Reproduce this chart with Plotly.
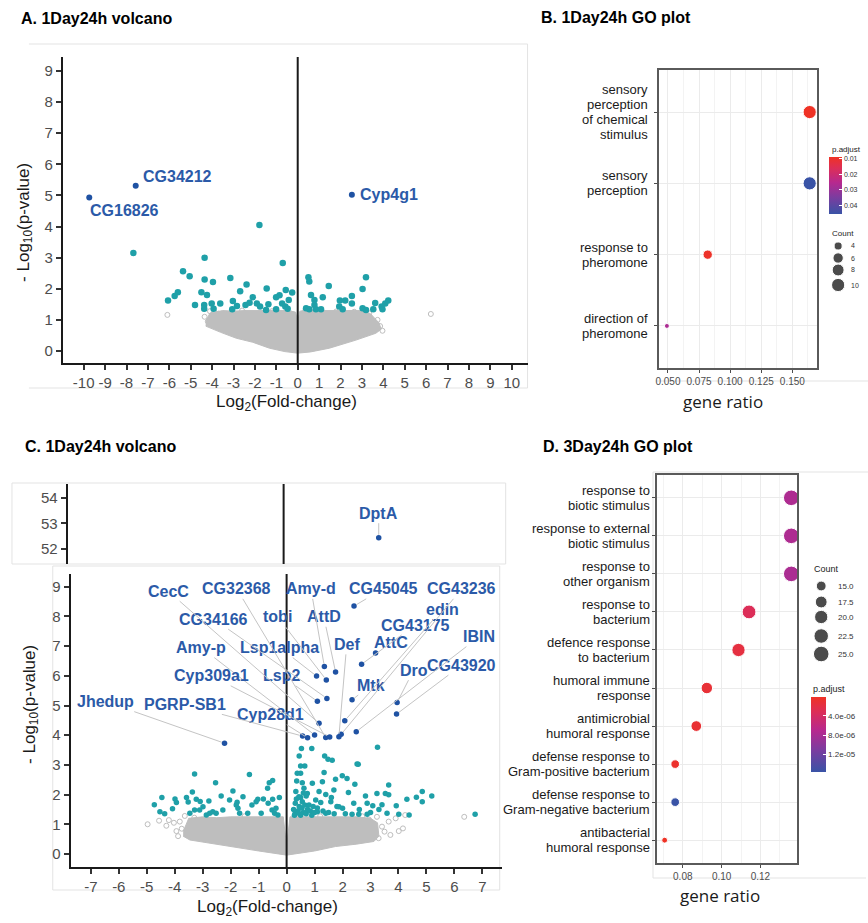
import math
import plotly.graph_objects as go

W, H = 868, 923
FONT = "Liberation Sans, Arial, sans-serif"
TEAL = "#1fa0a8"
BLUE = "#1f52a3"
LBLUE = "#2b5aa8"
GRAY = "#bebebe"

# ---------------- Panel A data (1Day24h volcano) ----------------
a_teal_x = [-7.68, -1.79, -5.36, -5.05, -4.35, -4.35, -3.96, -3.15, -2.39, -2.69, -1.45, -0.70, -0.56, -0.26,
            -0.85, -1.01, -2.10, -4.50, -4.24, -5.60, -5.75, -6.06, -4.80, -4.37, -4.37, -4.02, -3.93, -3.62,
            -3.03, -3.06, -2.84, -2.44, -2.25, -1.91, -1.76, -1.37, -1.48, -1.01, -0.73, -0.58, -0.47, -0.42,
            0.50, 0.54, 1.45, 3.19, 3.03, 0.62, 1.17, 0.78, 0.78, 0.39, 0.54, 0.85, 1.09, 1.97, 2.22, 2.53,
            2.53, 1.94, 2.10, 3.03, 3.19, 3.53, 3.62, 3.92, 4.09, 4.23, 3.96]
a_teal_y = [3.15, 4.05, 2.56, 2.40, 3.00, 2.30, 2.22, 2.35, 2.14, 1.92, 2.01, 2.83, 1.96, 1.88,
            1.79, 1.73, 1.73, 1.89, 1.80, 1.89, 1.77, 1.62, 1.48, 1.48, 1.36, 1.53, 1.36, 1.53,
            1.61, 1.34, 1.45, 1.48, 1.55, 1.53, 1.43, 1.50, 1.32, 1.34, 1.53, 1.43, 1.36, 1.64,
            2.37, 2.23, 2.09, 2.37, 1.99, 1.80, 1.73, 1.64, 1.48, 1.37, 1.34, 1.34, 1.34, 1.62, 1.62, 1.77,
            1.53, 1.43, 1.34, 1.37, 1.32, 1.34, 1.54, 1.43, 1.53, 1.62, 1.34]
a_gray_x = [-6.09, 6.22, 3.96, 3.73, 2.10, 2.64, 3.34, -4.35, -4.20, -3.90, 3.50, 3.10, -2.60, -1.20,
            1.80, 0.30, -0.30, 2.90, -3.40, 3.85, -4.1, -3.7, 3.6, 2.4]
a_gray_y = [1.16, 1.19, 0.65, 1.00, 1.16, 1.26, 1.21, 1.10, 0.95, 1.25, 0.95, 1.25, 1.30, 1.28,
            1.27, 1.25, 1.20, 0.80, 1.10, 0.80, 1.28, 1.20, 0.72, 1.22]
# outline of the dense non-significant cloud
a_cloud_x = [-4.3, -4.1, -3.5, -3.0, -2.5, -2.0, -1.5, -1.0, -0.5, -0.1, 0.0, 0.1, 0.5, 1.0, 1.5, 2.0, 2.5,
             3.0, 3.4, 3.8, 3.9, 3.65, 2.72, 1.48, 0.6, 0.0, -0.6, -1.32, -2.1, -2.87, -3.6, -4.3]
a_cloud_y = [0.95, 1.22, 1.30, 1.28, 1.30, 1.30, 1.32, 1.30, 1.30, 1.25, 0.95, 1.28, 1.30, 1.30, 1.30, 1.28, 1.30,
             1.30, 1.20, 0.90, 0.70, 0.57, 0.35, 0.09, -0.03, -0.07, -0.02, 0.09, 0.28, 0.41, 0.60, 0.80]
a_blue_genes = ["CG16826", "CG34212", "Cyp4g1"]
a_blue_x = [-9.74, -7.57, 2.53]
a_blue_y = [4.93, 5.31, 5.02]
a_x_ticks = list(range(-10, 11))
a_y_ticks = list(range(0, 10))

# ---------------- Panel B data (1Day24h GO plot) ----------------
b_terms = ["sensory perception of chemical stimulus", "sensory perception",
           "response to pheromone", "direction of pheromone"]
b_lines = [["sensory", "perception", "of chemical", "stimulus"], ["sensory", "perception"],
           ["response to", "pheromone"], ["direction of", "pheromone"]]
b_count = [10, 10, 5, 3]
b_total = 61
b_padj = [0.0089, 0.0457, 0.0095, 0.027]
b_x_ticks = [0.050, 0.075, 0.100, 0.125, 0.150]
b_x_ticktext = ["0.050", "0.075", "0.100", "0.125", "0.150"]
b_cbar_ticks = [0.01, 0.02, 0.03, 0.04]
b_legend_counts = [4, 6, 8, 10]

# ---------------- Panel C data (1Day24h volcano, broken axis) ----------------
c_teal_x = [-4.73, -4.53, -4.46, -4.36, -4.08, -3.99, -3.94, -3.58, -3.52, -3.46, -3.37, -3.29, -3.29, -3.23,
            -3.09, -2.99, -2.87, -2.78, -2.75, -2.64, -2.54, -2.34, -2.28, -2.04, -1.92, -1.77, -1.74, -1.68,
            -1.56, -1.39, -1.33, -1.24, -1.03, -0.91, -0.83, -0.68, -0.62, -0.50, -0.66, -0.52, -0.43, -0.38,
            -0.26, -0.31, -0.50, -3.11, -2.52, -1.80, -1.09,
            0.31, 0.33, 0.38, 0.50, 0.36, 0.56, 0.65, 0.62, 0.44, 0.56, 0.74, 0.80, 0.92, 1.04, 1.10, 1.16,
            1.22, 1.34, 1.28, 1.40, 1.58, 1.63, 1.69, 1.75, 1.87, 1.99, 2.00, 2.16, 2.21, 2.34, 2.40, 2.44,
            2.52, 2.58, 2.82, 2.88, 2.88, 3.08, 3.23, 3.41, 3.53, 3.65, 3.59, 3.65, 3.92, 4.01, 4.30, 4.38,
            4.64, 4.85, 4.85, 5.19, 6.74,
            0.25, 0.30, 0.40, 0.45, 0.50, 0.55, 0.60, 0.65, 0.70, 0.75, 0.85, 0.90, 0.95, 1.00, 0.35, 0.50,
            0.70, 0.60, 1.10, 1.30, 1.50, 1.70, 1.80, 2.10, 1.60, 1.40, 2.60, 3.00, 3.30, 0.28, 0.42, 0.48,
            0.45, 0.53, 0.90, 0.50, 1.36, 1.48, 2.56, 3.25]
c_teal_y = [1.66, 1.42, 1.90, 1.35, 1.52, 1.85, 1.73, 1.90, 1.75, 1.37, 2.09, 2.69, 1.48, 1.84,
            1.77, 1.59, 1.31, 1.78, 1.37, 1.42, 2.40, 1.95, 1.48, 1.82, 2.12, 1.74, 1.54, 1.37,
            1.93, 1.37, 2.68, 1.65, 1.84, 1.37, 1.85, 2.21, 2.40, 2.47, 1.71, 1.48, 1.37, 1.54,
            1.90, 1.31, 1.84, 1.48, 1.37, 1.65, 1.76,
            1.71, 2.10, 2.72, 2.72, 2.46, 2.40, 2.96, 2.21, 1.93, 1.76, 2.04, 1.65, 2.38, 1.82, 1.42, 2.10,
            1.73, 2.74, 2.43, 1.37, 1.76, 3.16, 2.15, 2.52, 1.59, 2.63, 1.54, 2.54, 2.07, 1.34, 1.71, 2.35,
            3.03, 1.34, 1.95, 1.71, 1.34, 1.62, 2.04, 1.66, 2.04, 2.32, 1.37, 1.99, 1.62, 1.34, 1.84, 1.31,
            1.91, 2.10, 1.76, 1.95, 1.34,
            1.50, 1.35, 1.45, 1.60, 1.30, 1.55, 1.40, 1.65, 1.35, 1.50, 1.45, 1.30, 1.60, 1.40, 1.85, 1.90,
            1.95, 2.05, 1.55, 1.45, 1.40, 1.35, 1.60, 1.35, 1.90, 2.00, 1.50, 1.40, 1.50, 1.30, 1.38, 1.55,
            3.30, 3.55, 3.55, 2.96, 3.30, 3.19, 3.02, 3.59]
c_gray_x = [-4.97, -4.56, -4.21, -4.03, -3.94, -3.88, -3.64, -3.82, 4.01, 4.16, 4.24, 6.35, 3.65, 3.41,
            3.71, 3.29, 3.23, 2.94, -4.3, -3.75, 3.5, 3.9, -3.3, 2.7, -1.5, 1.2]
c_gray_y = [1.00, 1.12, 1.14, 1.05, 0.77, 0.60, 1.28, 1.09, 0.77, 0.86, 1.31, 1.25, 1.09, 0.92,
            0.64, 0.53, 1.25, 1.16, 0.95, 0.85, 0.75, 1.20, 1.22, 1.27, 1.27, 1.27]
c_cloud_x = [-3.7, -3.5, -3.0, -2.5, -2.0, -1.5, -1.0, -0.5, -0.12, -0.03, 0.03, 0.12, 0.5, 1.0, 1.5, 2.0,
             2.5, 3.0, 3.25, 3.3, 3.12, 2.5, 1.75, 1.0, 0.0, -1.0, -1.8, -2.6, -3.46, -3.7]
c_cloud_y = [0.75, 1.20, 1.25, 1.22, 1.25, 1.25, 1.25, 1.25, 1.25, 0.50, 0.50, 1.25, 1.25, 1.25, 1.25, 1.25,
             1.25, 1.20, 1.05, 0.60, 0.42, 0.33, 0.25, 0.10, -0.04, 0.10, 0.22, 0.35, 0.47, 0.60]
c_blue_genes = ["Jhedup", "CG45045", "AttC", "CG43175", "AttD", "Lsp1alpha", "tobi", "Amy-d", "Lsp2",
                "CG34166", "Mtk", "Dro", "CG43920", "CecC", "edin", "IBIN", "Amy-p", "Cyp28d1",
                "PGRP-SB1", "CG32368", "Cyp309a1", "Def", "CG43236"]
c_blue_x = [-2.22, 2.41, 3.18, 2.68, 1.75, 1.07, 1.42, 1.35, 1.10, 1.44, 2.34, 3.95, 3.93, 1.16, 2.08,
            2.49, 1.00, 0.75, 0.57, 1.40, 1.54, 1.87, 1.95]
c_blue_y = [3.73, 8.35, 6.77, 6.39, 6.13, 5.99, 5.86, 6.31, 5.14, 5.24, 5.19, 5.10, 4.71, 4.40, 4.49,
            4.12, 4.01, 3.91, 3.97, 3.92, 3.94, 3.95, 4.03]
c_top_gene = "DptA"
c_top_x = 3.40
c_top_y = 52.43
c_x_ticks = list(range(-7, 8))
c_y_ticks = list(range(0, 10))
c_top_y_ticks = [52, 53, 54]

# ---------------- Panel D data (3Day24h GO plot) ----------------
d_terms = ["response to biotic stimulus", "response to external biotic stimulus",
           "response to other organism", "response to bacterium", "defence response to bacterium",
           "humoral immune response", "antimicrobial humoral response",
           "defense response to Gram-positive bacterium", "defense response to Gram-negative bacterium",
           "antibacterial humoral response"]
d_lines = [["response to", "biotic stimulus"], ["response to external", "biotic stimulus"],
           ["response to", "other organism"], ["response to", "bacterium"],
           ["defence response", "to bacterium"], ["humoral immune", "response"],
           ["antimicrobial", "humoral response"], ["defense response to", "Gram-positive bacterium"],
           ["defense response to", "Gram-negative bacterium"], ["antibacterial", "humoral response"]]
d_count = [25, 25, 25, 21, 20, 17, 16, 14, 14, 13]
d_total = 184
d_padj = [7.6e-06, 7.6e-06, 7.8e-06, 3.2e-06, 1.8e-06, 1.2e-06, 1.0e-06, 6e-07, 1.56e-05, 1e-07]
d_x_ticks = [0.08, 0.10, 0.12]
d_x_ticktext = ["0.08", "0.10", "0.12"]
d_cbar_ticks = [4e-06, 8e-06, 1.2e-05]
d_cbar_ticktext = ["4.0e-06", "8.0e-06", "1.2e-05"]
d_legend_counts = [15.0, 17.5, 20.0, 22.5, 25.0]

# ---------------- helpers ----------------
def px(x):
    return x / W


def py(y):
    return 1 - y / H


def ggsize(c, lo, hi, scale):
    return scale * (3 + 5 * math.sqrt(max(0.0, (c - lo) / (hi - lo))))


GO_SCALE = [[0, "#3953a6"], [0.3, "#7d3c9f"], [0.55, "#b6298f"], [0.8, "#dc2e58"], [1, "#ef3225"]]

fig = go.Figure()

# ---- Panel A traces ----
fig.add_trace(go.Scatter(x=a_cloud_x, y=a_cloud_y, mode="lines", fill="toself", fillcolor=GRAY,
                         line=dict(color=GRAY, width=1), xaxis="x", yaxis="y", hoverinfo="skip"))
fig.add_trace(go.Scatter(x=a_gray_x, y=a_gray_y, mode="markers", xaxis="x", yaxis="y",
                         marker=dict(symbol="circle-open", color=GRAY, size=5, line=dict(width=1))))
fig.add_trace(go.Scatter(x=a_teal_x, y=a_teal_y, mode="markers", xaxis="x", yaxis="y",
                         marker=dict(color=TEAL, size=6.5)))
fig.add_trace(go.Scatter(x=a_blue_x, y=a_blue_y, mode="markers", xaxis="x", yaxis="y",
                         marker=dict(color=BLUE, size=6)))

# ---- Panel B trace ----
b_ratio = [c / b_total for c in b_count]
fig.add_trace(go.Scatter(
    x=b_ratio, y=b_terms, mode="markers", xaxis="x2", yaxis="y2",
    marker=dict(size=[ggsize(c, min(b_count), max(b_count), 1.65) for c in b_count],
                color=[-p for p in b_padj], cmin=-max(b_padj), cmax=-min(b_padj),
                colorscale=GO_SCALE, showscale=True, opacity=1,
                colorbar=dict(x=px(829), xanchor="left", y=py(157), yanchor="top",
                              len=57, lenmode="pixels", thickness=13, thicknessmode="pixels",
                              xpad=0, ypad=0, outlinewidth=0, ticks="inside", ticklen=3,
                              tickcolor="white", tickvals=[-t for t in b_cbar_ticks],
                              ticktext=["%.2f" % t for t in b_cbar_ticks],
                              tickfont=dict(size=7, color="#333", family=FONT)))))

# ---- Panel C traces ----
fig.add_trace(go.Scatter(x=c_cloud_x, y=c_cloud_y, mode="lines", fill="toself", fillcolor=GRAY,
                         line=dict(color=GRAY, width=1), xaxis="x3", yaxis="y3", hoverinfo="skip"))
fig.add_trace(go.Scatter(x=c_gray_x, y=c_gray_y, mode="markers", xaxis="x3", yaxis="y3",
                         marker=dict(symbol="circle-open", color=GRAY, size=5, line=dict(width=1))))
fig.add_trace(go.Scatter(x=c_teal_x, y=c_teal_y, mode="markers", xaxis="x3", yaxis="y3",
                         marker=dict(color=TEAL, size=5.5)))
fig.add_trace(go.Scatter(x=c_blue_x, y=c_blue_y, mode="markers", xaxis="x3", yaxis="y3",
                         marker=dict(color=BLUE, size=5.5)))
fig.add_trace(go.Scatter(x=[c_top_x], y=[c_top_y], mode="markers", xaxis="x4", yaxis="y4",
                         marker=dict(color=BLUE, size=5.5)))

# ---- Panel D trace ----
d_ratio = [c / d_total for c in d_count]
fig.add_trace(go.Scatter(
    x=d_ratio, y=d_terms, mode="markers", xaxis="x5", yaxis="y5",
    marker=dict(size=[ggsize(c, min(d_count), max(d_count), 1.95) for c in d_count],
                color=[-p for p in d_padj], cmin=-max(d_padj), cmax=-min(d_padj),
                colorscale=GO_SCALE, showscale=True, opacity=1,
                colorbar=dict(x=px(811), xanchor="left", y=py(697), yanchor="top",
                              len=75, lenmode="pixels", thickness=15, thicknessmode="pixels",
                              xpad=0, ypad=0, outlinewidth=0, ticks="inside", ticklen=3,
                              tickcolor="white", tickvals=[-t for t in d_cbar_ticks],
                              ticktext=d_cbar_ticktext,
                              tickfont=dict(size=8, color="#333", family=FONT)))))

# ---- Count legends (pixel overlay axes) ----
b_leg_y = [246, 258, 270, 285]
d_leg_y = [586, 602, 617, 636, 654]
fig.add_trace(go.Scatter(x=[838] * len(b_legend_counts), y=b_leg_y, mode="markers", xaxis="x6", yaxis="y6",
                         marker=dict(color="black",
                                     size=[ggsize(c, min(b_count), max(b_count), 1.65) for c in b_legend_counts])))
fig.add_trace(go.Scatter(x=[821] * len(d_legend_counts), y=d_leg_y, mode="markers", xaxis="x6", yaxis="y6",
                         marker=dict(color="black",
                                     size=[ggsize(c, min(d_count), max(d_count), 1.95) for c in d_legend_counts])))

# ---------------- axes ----------------
vol_tick = dict(ticks="outside", ticklen=5, tickwidth=1.5, tickcolor="#333", showline=True,
                linecolor="#1a1a1a", linewidth=2, showgrid=False, zeroline=False,
                tickfont=dict(size=15, color="#4d4d4d", family=FONT), tickangle=0)
go_x = dict(ticks="outside", ticklen=3, tickwidth=1, tickcolor="#4d4d4d", showline=True, mirror=True,
            linecolor="#5a5a5a", linewidth=1.5, showgrid=True, gridcolor="#ebebeb", zeroline=False,
            tickangle=0)
go_y = dict(type="category", ticks="outside", ticklen=3, tickwidth=1, tickcolor="#4d4d4d", showline=True,
            mirror=True, linecolor="#5a5a5a", linewidth=1.5, showgrid=True, gridcolor="#ebebeb",
            zeroline=False, showticklabels=False)


def hy(v):
    return [str(t) for t in v]


layout = dict(
    width=W, height=H, margin=dict(l=0, r=0, t=0, b=0), showlegend=False,
    paper_bgcolor="white", plot_bgcolor="rgba(0,0,0,0)", font=dict(family=FONT),
    xaxis=dict(domain=[px(59), px(526)], range=[-10.98, 10.74], tickvals=a_x_ticks, ticktext=hy(a_x_ticks),
               anchor="y", **vol_tick),
    yaxis=dict(domain=[py(363), py(57)], range=[-0.386, 9.45], tickvals=a_y_ticks, anchor="x", **vol_tick),
    xaxis2=dict(domain=[px(658), px(817)], range=[0.0428, 0.170], tickvals=b_x_ticks, ticktext=b_x_ticktext,
                tickfont=dict(size=10, color="#4d4d4d", family=FONT), anchor="y2",
                minor=dict(dtick=0.0125, tick0=0.05, showgrid=True, gridcolor="#f3f3f3"), **go_x),
    yaxis2=dict(domain=[py(368), py(70)], range=[-0.59, 3.59], categoryorder="array",
                categoryarray=b_terms[::-1], anchor="x2", **go_y),
    xaxis3=dict(domain=[px(67), px(500)], range=[-7.72, 7.69], tickvals=c_x_ticks, ticktext=hy(c_x_ticks),
                anchor="y3", **vol_tick),
    yaxis3=dict(domain=[py(867), py(574)], range=[-0.44, 9.43], tickvals=c_y_ticks, anchor="x3", **vol_tick),
    xaxis4=dict(domain=[px(64), px(497)], range=[-7.72, 7.69], visible=False, anchor="y4"),
    yaxis4=dict(domain=[py(564), py(484)], range=[51.4, 54.55], tickvals=c_top_y_ticks, anchor="x4", **vol_tick),
    xaxis5=dict(domain=[px(656), px(797)], range=[0.0667, 0.139], tickvals=d_x_ticks, ticktext=d_x_ticktext,
                tickfont=dict(size=10, color="#4d4d4d", family=FONT), anchor="y5",
                minor=dict(dtick=0.01, tick0=0.07, showgrid=True, gridcolor="#f3f3f3"), **go_x),
    yaxis5=dict(domain=[py(863), py(475)], range=[-0.6, 9.6], categoryorder="array",
                categoryarray=d_terms[::-1], anchor="x5", **go_y),
    xaxis6=dict(domain=[0, 1], range=[0, W], visible=False, anchor="y6"),
    yaxis6=dict(domain=[0, 1], range=[H, 0], visible=False, anchor="x6"),
)
fig.update_layout(**layout)

# ---------------- shapes ----------------
shapes = []
FR = dict(color="#e3e3e3", width=1)
for (x0, y0, x1, y1) in [(25, 44, 526, 44), (526, 44, 526, 388), (25, 388, 526, 388),
                         (655, 381, 868, 381),
                         (8, 483, 504, 483), (8, 564, 504, 564), (8, 483, 8, 564), (504, 483, 504, 564),
                         (49, 566, 498, 566), (49, 566, 49, 890), (498, 566, 498, 890), (49, 890, 498, 890),
                         (652, 472, 868, 472), (652, 472, 652, 878), (652, 878, 866, 878)]:
    shapes.append(dict(type="line", xref="paper", yref="paper", x0=px(x0), y0=py(y0), x1=px(x1), y1=py(y1),
                       line=FR, layer="below"))
for xr, yr in [("x", "y domain"), ("x3", "y3 domain"), ("x4", "y4 domain")]:
    shapes.append(dict(type="line", xref=xr, yref=yr, x0=0, x1=0, y0=0, y1=1,
                       line=dict(color="#1a1a1a", width=2)))
fig.update_layout(shapes=shapes)

# ---------------- annotations ----------------
ann = []


def text(x, y, s, size, color="#111", bold=False, xanchor="center", angle=0, family=FONT):
    ann.append(dict(x=px(x), y=py(y), xref="paper", yref="paper", text=("<b>%s</b>" % s) if bold else s,
                    showarrow=False, xanchor=xanchor, yanchor="middle", textangle=angle,
                    font=dict(size=size, color=color, family=family)))


text(15, 18, "A. 1Day24h volcano", 16, "#000", True, "left")
text(537, 17, "B. 1Day24h GO plot", 16, "#000", True, "left")
text(19, 447, "C. 1Day24h volcano", 16, "#000", True, "left")
text(539, 447, "D. 3Day24h GO plot", 16, "#000", True, "left")

text(284, 403, "Log<sub>2</sub>(Fold-change)", 17, "#1a1a1a")
text(21, 222, "- Log<sub>10</sub>(p-value)", 17, "#1a1a1a", angle=-90)
text(265, 908, "Log<sub>2</sub>(Fold-change)", 17, "#1a1a1a")
text(27, 704, "- Log<sub>10</sub>(p-value)", 17, "#1a1a1a", angle=-90)
text(722, 401, "gene ratio", 17, "#1a1a1a", family="Open Sans, Noto Sans, sans-serif")
text(719, 895, "gene ratio", 17, "#1a1a1a", family="Open Sans, Noto Sans, sans-serif")

# legends text
text(830, 150, "p.adjust", 8, "#222", xanchor="left")
text(830, 233, "Count", 8, "#222", xanchor="left")
for c, yy in zip(b_legend_counts, b_leg_y):
    text(849, yy, str(c), 7, "#333", xanchor="left")
text(812, 569, "Count", 9, "#222", xanchor="left")
for c, yy in zip(d_legend_counts, d_leg_y):
    text(836, yy, "%.1f" % c, 8, "#333", xanchor="left")
text(811, 689, "p.adjust", 9, "#222", xanchor="left")

# GO category labels (one text per line, tight line spacing as in the reference)
for terms, lines, xr, yr, shift in [(b_terms, b_lines, "x2 domain", "y2", -9), (d_terms, d_lines, "x5 domain", "y5", -5)]:
    for term, ls in zip(terms, lines):
        n = len(ls)
        for j, s in enumerate(ls):
            ann.append(dict(x=0, y=term, xref=xr, yref=yr, text=s, showarrow=False, xanchor="right",
                            yanchor="middle", xshift=shift, yshift=((n - 1) / 2 - j) * 15,
                            font=dict(size=13, color="#1a1a1a", family=FONT)))

# Panel A gene labels
a_lab = {"CG16826": (-8.08, 4.53, "center"), "CG34212": (-7.3, 5.6, "left"), "Cyp4g1": (2.8, 5.02, "left")}
for g in a_blue_genes:
    lx, ly, anc = a_lab[g]
    ann.append(dict(x=lx, y=ly, xref="x", yref="y", text="<b>%s</b>" % g, showarrow=False, xanchor=anc,
                    yanchor="middle", font=dict(size=16, color=LBLUE, family=FONT)))

# Panel C gene labels with leader segments
c_lab = {"Jhedup": (-6.47, 5.13), "CG45045": (3.45, 8.93), "AttC": (3.73, 7.12), "CG43175": (4.60, 7.71),
         "AttD": (1.33, 7.99), "Lsp1alpha": (-0.24, 6.95), "tobi": (-0.32, 7.99), "Amy-d": (0.87, 8.93),
         "Lsp2": (-0.18, 6.00), "CG34166": (-2.60, 7.91), "Mtk": (3.02, 5.69), "Dro": (4.54, 6.19),
         "CG43920": (6.26, 6.36), "CecC": (-4.23, 8.85), "edin": (5.58, 8.25), "IBIN": (6.89, 7.32),
         "Amy-p": (-3.05, 6.95), "Cyp28d1": (-0.56, 4.69), "PGRP-SB1": (-3.64, 5.04),
         "CG32368": (-1.78, 8.93), "Cyp309a1": (-2.69, 6.00), "Def": (2.15, 7.06), "CG43236": (6.26, 8.93)}
for g, x, y in zip(c_blue_genes, c_blue_x, c_blue_y):
    lx, ly = c_lab[g]
    ann.append(dict(x=x, y=y, xref="x3", yref="y3", ax=lx, ay=ly, axref="x3", ayref="y3",
                    text="<b>%s</b>" % g, showarrow=True, arrowhead=0, arrowwidth=1, arrowcolor="#c4c4c4",
                    standoff=3, font=dict(size=16, color=LBLUE, family=FONT)))
ann.append(dict(x=c_top_x, y=c_top_y, xref="x4", yref="y4", ax=c_top_x, ay=53.4, axref="x4", ayref="y4",
                text="<b>%s</b>" % c_top_gene, showarrow=True, arrowhead=0, arrowwidth=1, arrowcolor="#c4c4c4",
                standoff=3, font=dict(size=16, color=LBLUE, family=FONT)))

fig.update_layout(annotations=ann)
fig.write_html("out.html", config={"displayModeBar": False},
               post_script="document.body.style.margin='0';document.body.style.overflow='hidden';")
